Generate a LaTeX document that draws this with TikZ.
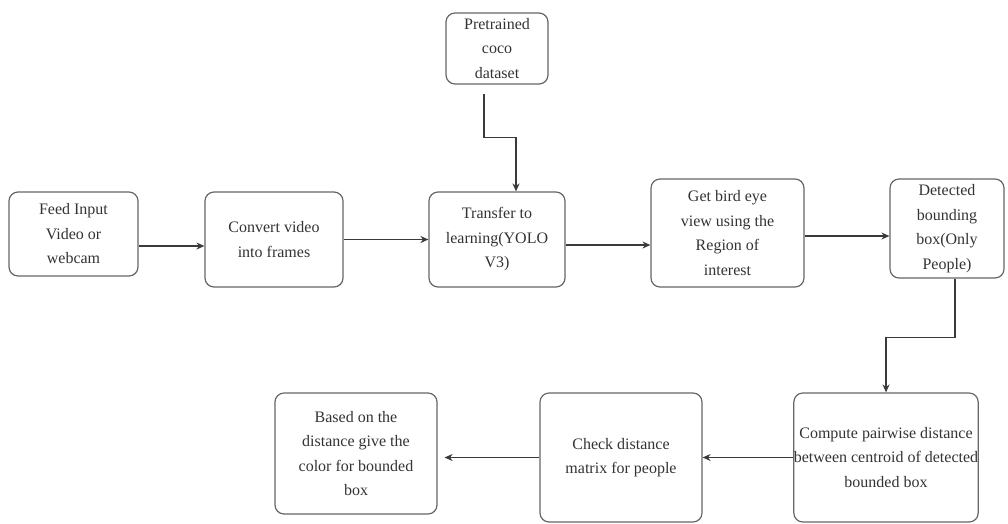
\documentclass[tikz,border=0pt]{standalone}
\usepackage{fontspec}
\setmainfont{Liberation Serif}
\usetikzlibrary{arrows.meta}
\definecolor{boxgray}{HTML}{666666}
\definecolor{linegray}{HTML}{3A3A3A}

\begin{document}
\begin{tikzpicture}[x=1pt, y=-1pt,
    stage/.style={draw=boxgray, line width=1.2pt, rounded corners=9pt, align=center,
        inner sep=0pt, font=\fontsize{16}{24.5}\selectfont, text=black!80},
    flow/.style={draw=linegray, line width=1.2pt, -{Stealth[length=8pt,width=7pt]}}]

    % Canvas
    \useasboundingbox (0,0) rectangle (1008,523);

    % Top row
    \node[stage, minimum width=129pt, minimum height=84pt] (feed) at (73.5,234) {Feed Input\\Video or\\webcam};
    \node[stage, minimum width=138pt, minimum height=95pt] (convert) at (274,239.5) {Convert video\\into frames};
    \node[stage, minimum width=136pt, minimum height=95pt] (transfer) at (497,239.5) {Transfer to\\learning(YOLO\\V3)};
    \node[stage, minimum width=102pt, minimum height=71pt] (coco) at (497,48.5) {Pretrained\\coco\\dataset};
    \node[stage, minimum width=153pt, minimum height=108pt] (bird) at (727.5,233) {Get bird eye\\view using the\\Region of\\interest};
    \node[stage, minimum width=114pt, minimum height=99pt] (detected) at (947,228.5) {Detected\\bounding\\box(Only\\People)};

    % Bottom row
    \node[stage, minimum width=180pt, minimum height=129pt] (pairwise) at (886,457.5) {Compute pairwise distance\\between centroid of detected\\bounded box};
    \node[stage, minimum width=162pt, minimum height=129pt] (check) at (621,457.5) {Check distance\\matrix for people};
    \node[stage, minimum width=162pt, minimum height=121pt] (colour) at (356,453.5) {Based on the\\distance give the\\color for bounded\\box};

    % Connectors
    \draw[flow] ([yshift=-12pt]feed.east) -- ([yshift=-12pt]feed.east -| convert.west);
    \draw[flow] (convert.east) -- (transfer.west);
    \draw[flow] ([xshift=-13pt,yshift=-9pt]coco.south) -- ++(0,44) -| ([xshift=19pt]transfer.north);
    \draw[flow] ([yshift=-5.5pt]transfer.east) -- ([yshift=-5.5pt]transfer.east -| bird.west);
    \draw[flow] ([yshift=-3pt]bird.east) -- ([yshift=-3pt]bird.east -| detected.west);
    \draw[flow] ([xshift=8pt]detected.south) -- ++(0,59) -| (pairwise.north);
    \draw[flow] (pairwise.west) -- (check.east);
    \draw[flow, shorten >=7pt] (check.west) -- (check.west -| colour.east);

\end{tikzpicture}
\end{document}
